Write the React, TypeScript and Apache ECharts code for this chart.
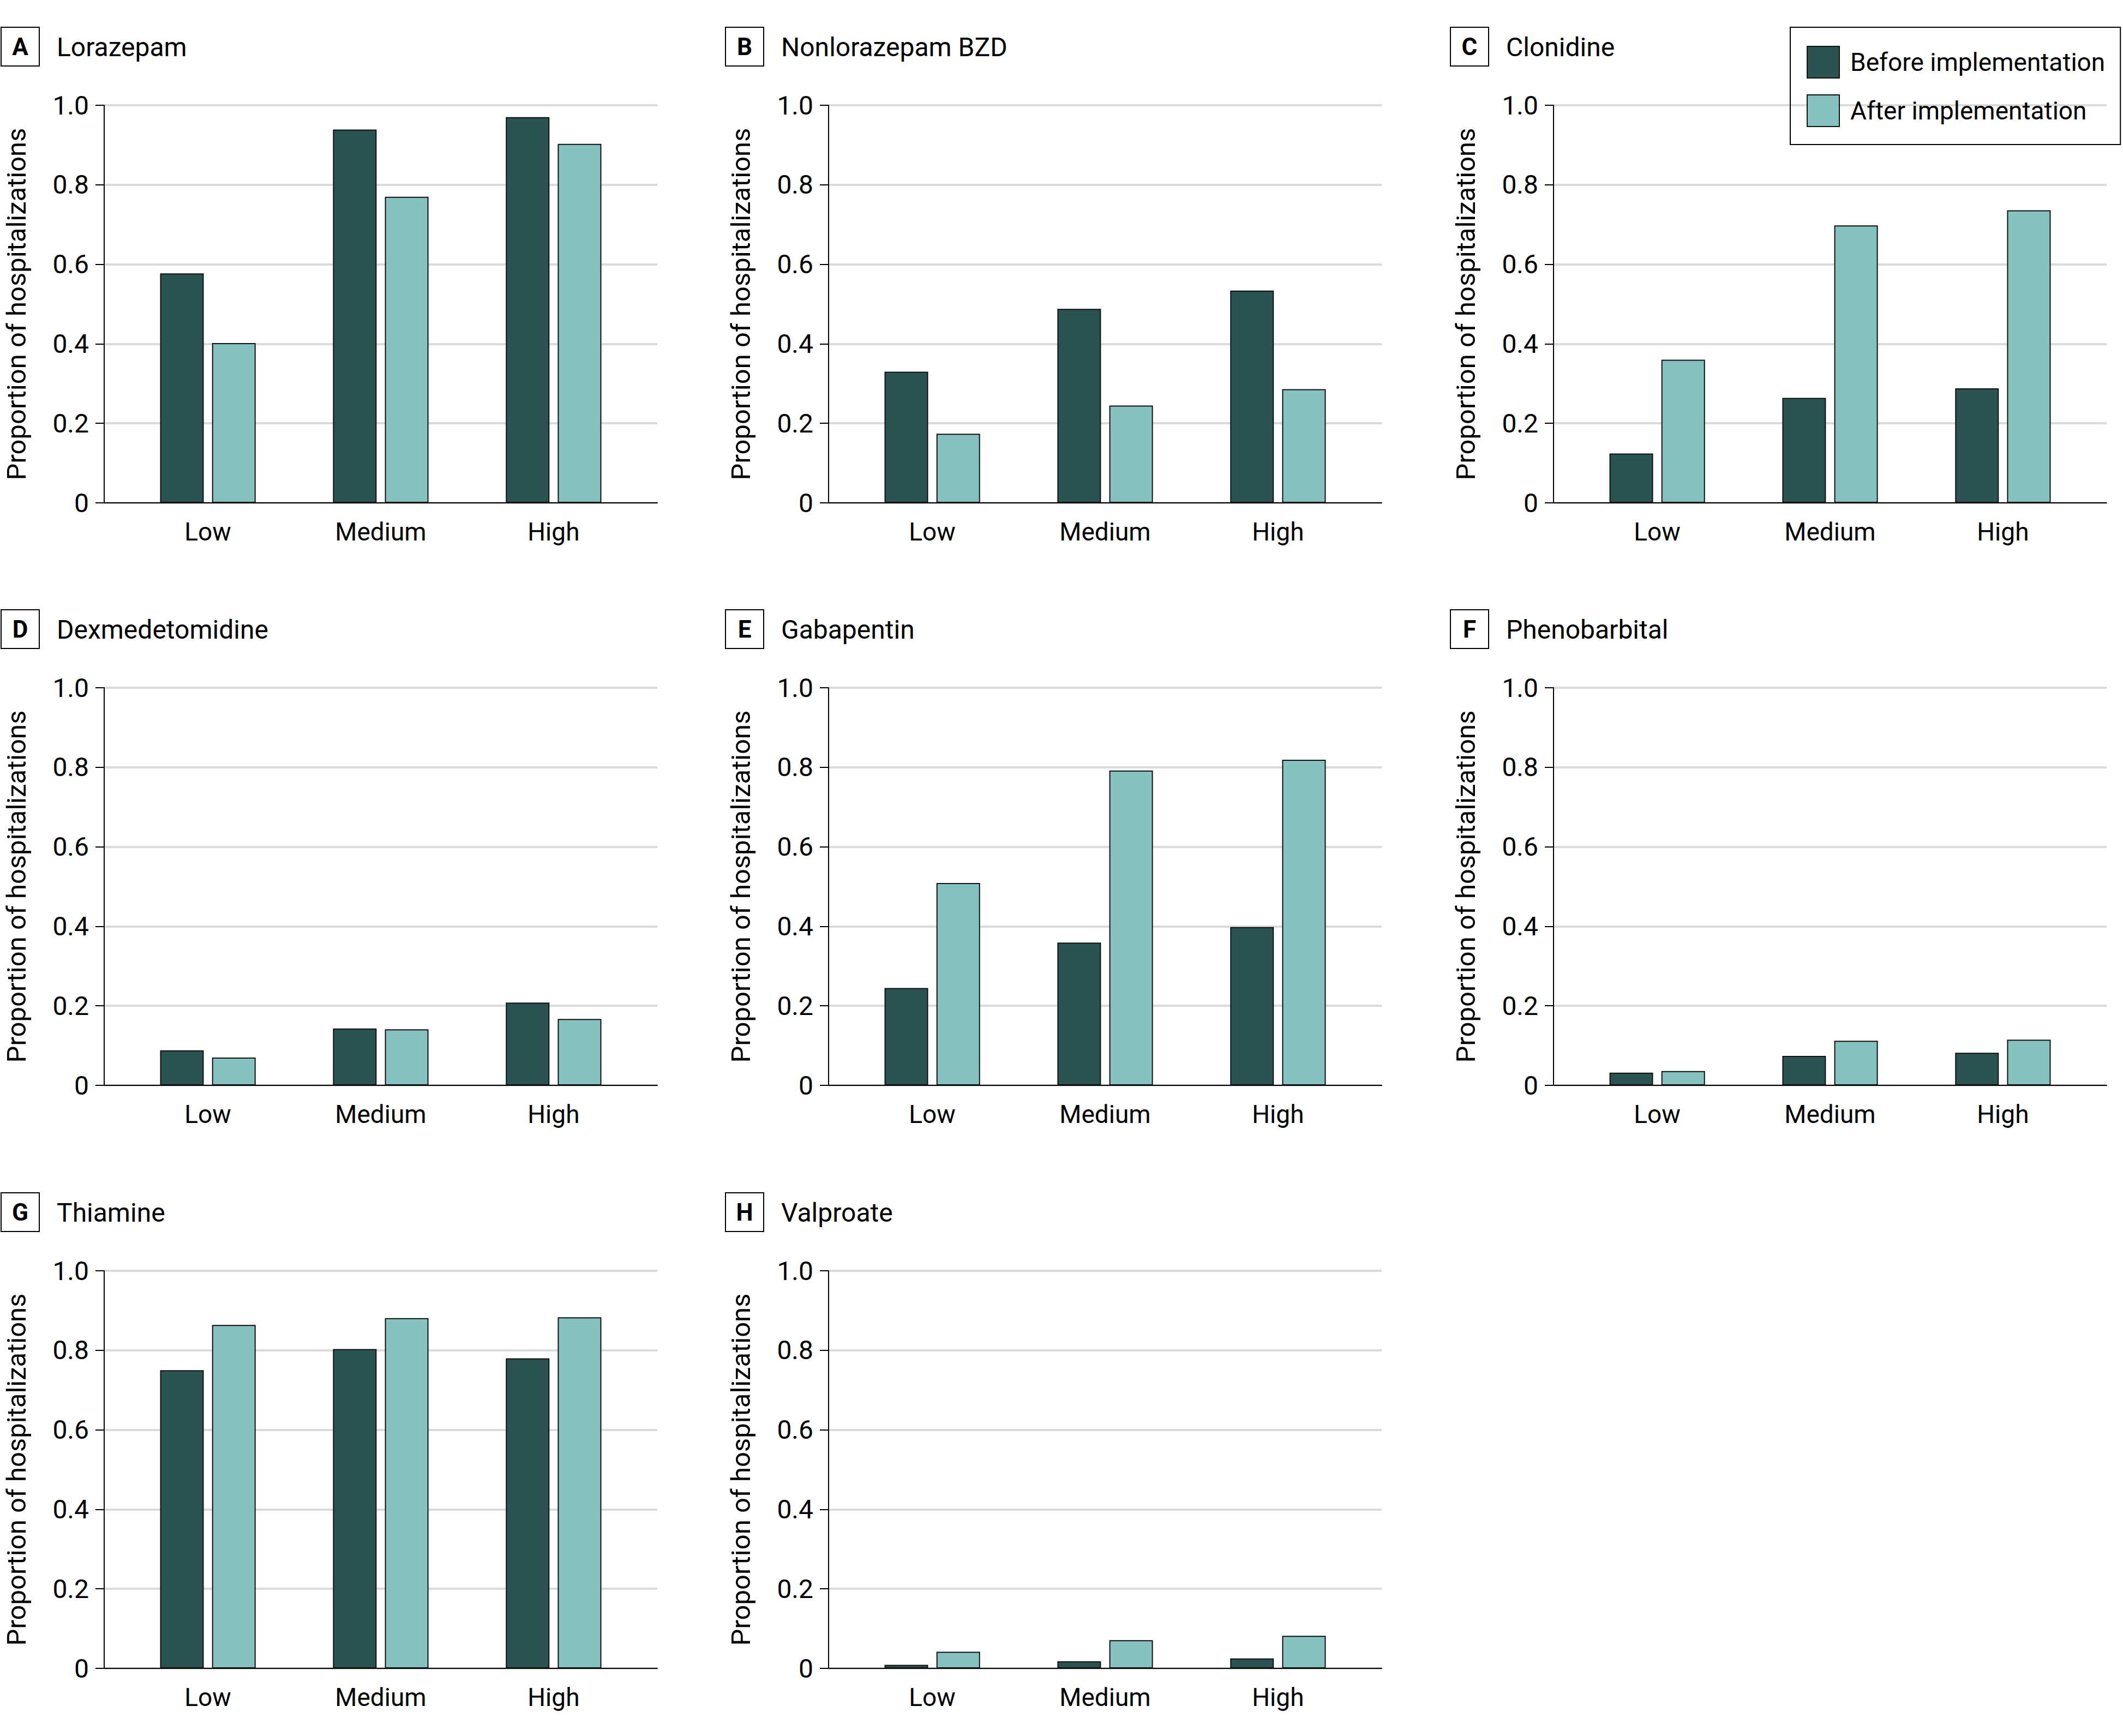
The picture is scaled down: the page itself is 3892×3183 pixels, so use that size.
import React, { useEffect, useRef } from "react";
import * as echarts from "echarts";

const categories = ["Low", "Medium", "High"];
const panelLetters = ["A", "B", "C", "D", "E", "F", "G", "H"];
const panelTitles = [
  "Lorazepam",
  "Nonlorazepam BZD",
  "Clonidine",
  "Dexmedetomidine",
  "Gabapentin",
  "Phenobarbital",
  "Thiamine",
  "Valproate",
];
const seriesNames = ["Before implementation", "After implementation"];
const yTicks = [0, 0.2, 0.4, 0.6, 0.8, 1.0];

const lorazepamBefore = [0.577, 0.939, 0.97];
const lorazepamAfter = [0.402, 0.77, 0.903];
const nonlorazepamBefore = [0.33, 0.488, 0.534];
const nonlorazepamAfter = [0.174, 0.245, 0.286];
const clonidineBefore = [0.124, 0.264, 0.288];
const clonidineAfter = [0.36, 0.698, 0.736];
const dexmedetomidineBefore = [0.088, 0.143, 0.208];
const dexmedetomidineAfter = [0.07, 0.141, 0.167];
const gabapentinBefore = [0.245, 0.359, 0.398];
const gabapentinAfter = [0.509, 0.792, 0.819];
const phenobarbitalBefore = [0.032, 0.074, 0.082];
const phenobarbitalAfter = [0.036, 0.112, 0.115];
const thiamineBefore = [0.75, 0.803, 0.78];
const thiamineAfter = [0.864, 0.881, 0.883];
const valproateBefore = [0.009, 0.018, 0.025];
const valproateAfter = [0.042, 0.071, 0.082];

const beforeSets = [
  lorazepamBefore,
  nonlorazepamBefore,
  clonidineBefore,
  dexmedetomidineBefore,
  gabapentinBefore,
  phenobarbitalBefore,
  thiamineBefore,
  valproateBefore,
];
const afterSets = [
  lorazepamAfter,
  nonlorazepamAfter,
  clonidineAfter,
  dexmedetomidineAfter,
  gabapentinAfter,
  phenobarbitalAfter,
  thiamineAfter,
  valproateAfter,
];

const FONT = "Roboto";
const DARK = "#2b5352";
const LIGHT = "#86c2c0";
const colX = [191, 1519, 2848];
const rowY = [193, 1261, 2330];
const PW = 1014;
const PH = 729;

export default function App() {
  const ref = useRef<HTMLDivElement>(null);
  useEffect(() => {
    document.body.style.margin = "0";
    if (!ref.current) return;
    const chart = echarts.init(ref.current, null, { renderer: "svg" });
    const grids: any[] = [];
    const xAxes: any[] = [];
    const yAxes: any[] = [];
    const series: any[] = [];
    const graphics: any[] = [];
    panelTitles.forEach((title, i) => {
      const r = Math.floor(i / 3);
      const c = i % 3;
      const ax = colX[c];
      const top = rowY[r];
      grids.push({ left: ax, top, width: PW, height: PH, containLabel: false });
      xAxes.push({
        type: "value",
        gridIndex: i,
        min: -0.6,
        max: 2.6,
        axisLine: { show: true, onZero: false, lineStyle: { color: "#000", width: 2 } },
        axisTick: { show: false },
        splitLine: { show: false },
        axisLabel: {
          customValues: [0, 1, 2],
          formatter: (v: number) => categories[Math.round(v)] ?? "",
          fontFamily: FONT,
          fontSize: 46,
          color: "#000",
          margin: 30,
        },
      });
      yAxes.push({
        type: "value",
        gridIndex: i,
        min: 0,
        max: 1,
        interval: 0.2,
        axisLine: { show: true, onZero: false, lineStyle: { color: "#000", width: 2 } },
        axisTick: { show: true, length: 16, lineStyle: { color: "#000", width: 2 } },
        splitLine: { show: true, lineStyle: { color: "#dadada", width: 4 } },
        axisLabel: {
          formatter: (v: number) => (yTicks.indexOf(v) === 0 ? "0" : v.toFixed(1)),
          fontFamily: FONT,
          fontSize: 48,
          color: "#000",
          margin: 28,
        },
        name: "Proportion of hospitalizations",
        nameLocation: "middle",
        nameRotate: 90,
        nameGap: 136,
        nameTextStyle: { fontFamily: FONT, fontSize: 49, color: "#000" },
      });
      [beforeSets[i], afterSets[i]].forEach((vals, k) => {
        series.push({
          type: "bar",
          name: seriesNames[k],
          xAxisIndex: i,
          yAxisIndex: i,
          barWidth: 80,
          barGap: "19%",
          data: vals.map((v, j) => [j, v]),
          itemStyle: {
            color: k === 0 ? DARK : LIGHT,
            borderColor: "#111",
            borderWidth: 2,
          },
          emphasis: { disabled: true },
        });
      });
      graphics.push({
        type: "rect",
        shape: { x: ax - 189, y: top - 143, width: 70, height: 71 },
        style: { fill: "#fff", stroke: "#000", lineWidth: 2 },
      });
      graphics.push({
        type: "text",
        x: ax - 154,
        y: top - 107,
        style: {
          text: panelLetters[i],
          fontFamily: FONT,
          fontWeight: "bold",
          fontSize: 44,
          fill: "#000",
          textAlign: "center",
          textVerticalAlign: "middle",
        },
      });
      graphics.push({
        type: "text",
        x: ax - 87,
        y: top - 107,
        style: {
          text: title,
          fontFamily: FONT,
          fontSize: 48,
          fill: "#000",
          textAlign: "left",
          textVerticalAlign: "middle",
        },
      });
    });

    chart.setOption({
      animation: false,
      backgroundColor: "#fff",
      grid: grids,
      xAxis: xAxes,
      yAxis: yAxes,
      series,
      graphic: graphics,
      legend: {
        data: seriesNames,
        orient: "vertical",
        left: 3282,
        top: 50,
        padding: [34, 28, 32, 30],
        itemWidth: 59,
        itemHeight: 58,
        itemGap: 29,
        borderColor: "#000",
        borderWidth: 2,
        icon: "rect",
        selectedMode: false,
        textStyle: { fontFamily: FONT, fontSize: 46, color: "#000", padding: [0, 0, 0, 15] },
      },
    });
    return () => chart.dispose();
  }, []);
  return (
    <div
      ref={ref}
      style={{ position: "absolute", left: 0, top: 0, width: 3892, height: 3183 }}
    />
  );
}
